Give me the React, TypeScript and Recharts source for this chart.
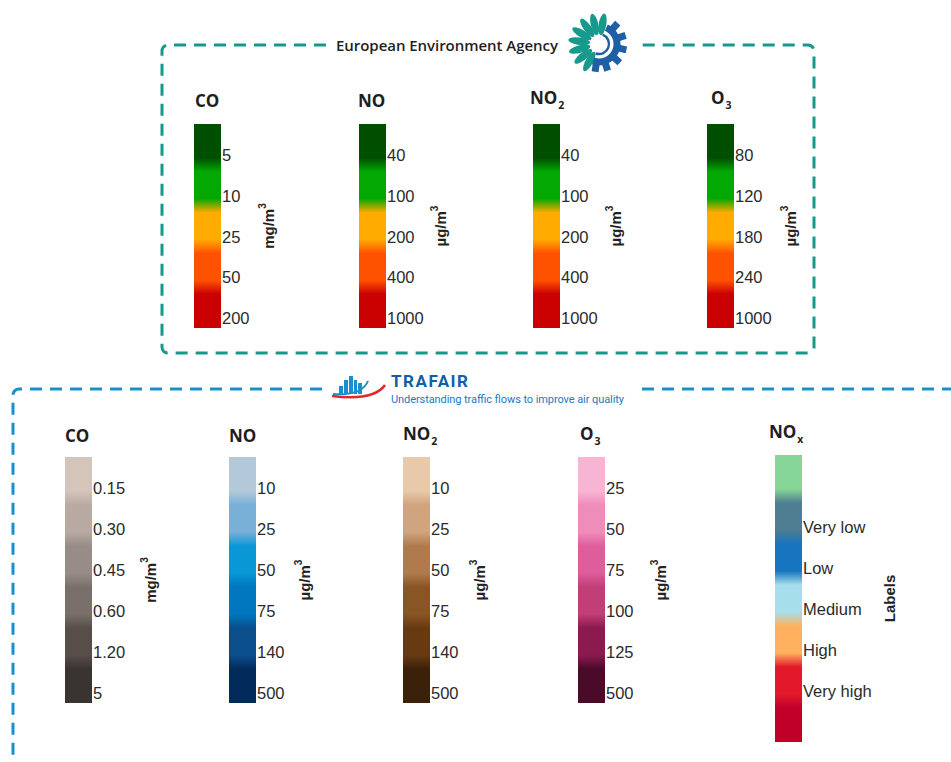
import React from "react";
import { BarChart, Bar, XAxis, YAxis } from "recharts";

// EEA bands (same five colours for every pollutant)
const eeaColors = ["#004f00", "#03a803", "#ffab00", "#ff5200", "#cb0000"];
const eeaCoTicks = ["5", "10", "25", "50", "200"];
const eeaNoTicks = ["40", "100", "200", "400", "1000"];
const eeaNo2Ticks = ["40", "100", "200", "400", "1000"];
const eeaO3Ticks = ["80", "120", "180", "240", "1000"];

// TRAFAIR bands
const trafairCoTicks = ["0.15", "0.30", "0.45", "0.60", "1.20", "5"];
const trafairCoColors = ["#d5c4ba", "#b8aaa3", "#978c87", "#7a706b", "#574e4a", "#3a3430"];
const trafairNoTicks = ["10", "25", "50", "75", "140", "500"];
const trafairNoColors = ["#b3c9d9", "#78b0d8", "#0a97d5", "#0077bf", "#0a4e8c", "#022b5b"];
const trafairNo2Ticks = ["10", "25", "50", "75", "140", "500"];
const trafairNo2Colors = ["#e8caab", "#d0a47e", "#b07a4d", "#8a5525", "#673a12", "#3b2109"];
const trafairO3Ticks = ["25", "50", "75", "100", "125", "500"];
const trafairO3Colors = ["#f8b5d3", "#ef8dba", "#de5e9b", "#c13e77", "#8b1a4e", "#4a0a28"];
const noxTicks = ["", "Very low", "Low", "Medium", "High", "Very high", ""];
const noxColors = ["#86d797", "#4f7d91", "#1775c0", "#a6dfeb", "#ffb15f", "#e3192b", "#c1002a"];

const TICK_POS = 0.76;

interface ColorBarProps {
  id: string;
  ticks: string[];
  colors: string[];
  unit: string;
  sup?: string;
  left: number;
  top: number;
  bandHeight: number;
  unitOffset: number;
  barWidth?: number;
}

function ColorBar({ id, ticks, colors, unit, sup, left, top, bandHeight, unitOffset, barWidth = 27 }: ColorBarProps) {
  const n = colors.length;
  const height = n * bandHeight;
  const axisWidth = unitOffset + 16;
  const data = [{ name: id, bands: n }];
  const tickValues = ticks
    .map((t, i) => (t ? i + TICK_POS : null))
    .filter((v) => v !== null) as number[];

  const renderTick = (props: any) => {
    const label = ticks[Math.round(props.payload.value - TICK_POS)];
    return (
      <text
        x={barWidth + 1}
        y={props.y}
        dy="0.36em"
        fontSize={16.5}
        fill="#2b2b2b"
        fontFamily="'Liberation Sans', Arial, sans-serif"
        textAnchor="start"
      >
        {label}
      </text>
    );
  };

  const renderUnit = () => {
    const cx = barWidth + unitOffset;
    const cy = height / 2;
    return (
      <text
        x={cx}
        y={cy}
        transform={`rotate(-90 ${cx} ${cy})`}
        textAnchor="middle"
        dominantBaseline="central"
        fontSize={15}
        fontWeight="bold"
        fill="#222"
        fontFamily="'Liberation Sans', Arial, sans-serif"
      >
        {unit}
        {sup && (
          <tspan dy={-6} fontSize={10}>
            {sup}
          </tspan>
        )}
      </text>
    );
  };

  return (
    <div style={{ position: "absolute", left, top }}>
      <BarChart
        width={barWidth + axisWidth}
        height={height}
        data={data}
        margin={{ top: 0, right: 0, bottom: 0, left: 0 }}
        barCategoryGap={0}
      >
        <defs>
          <linearGradient id={`grad-${id}`} x1="0" y1="0" x2="0" y2="1">
            {colors.flatMap((c, i) => [
              <stop key={`${i}a`} offset={(i + (i === 0 ? 0 : 0.17)) / n} stopColor={c} />,
              <stop key={`${i}b`} offset={(i + (i === n - 1 ? 1 : 0.83)) / n} stopColor={c} />,
            ])}
          </linearGradient>
        </defs>
        <XAxis dataKey="name" hide />
        <YAxis
          orientation="right"
          type="number"
          domain={[0, n]}
          reversed
          ticks={tickValues}
          interval={0}
          axisLine={false}
          tickLine={false}
          tickSize={0}
          tickMargin={1}
          width={axisWidth}
          tick={renderTick}
          label={{ content: renderUnit }}
        />
        <Bar dataKey="bands" fill={`url(#grad-${id})`} isAnimationActive={false} />
      </BarChart>
    </div>
  );
}

function Title({ text, sub, left, baseline }: { text: string; sub?: string; left: number; baseline: number }) {
  return (
    <div
      style={{
        position: "absolute",
        left,
        top: baseline - 19,
        fontFamily: "'Open Sans', sans-serif",
        fontWeight: 700,
        fontSize: 17,
        lineHeight: "23px",
        color: "#1e1e1e",
        whiteSpace: "nowrap",
      }}
    >
      {text}
      {sub && <span style={{ fontSize: 10.5, position: "relative", top: 5, marginLeft: 1 }}>{sub}</span>}
    </div>
  );
}

function EeaLogo({ cx, cy }: { cx: number; cy: number }) {
  const petals = [-80, -103, -126, -149, -172, 165, 142, 119];
  const teeth = [-48, -18, 12, 42, 72, 98];
  return (
    <g>
      {petals.map((a) => {
        const r = (a * Math.PI) / 180;
        const px = cx + Math.cos(r) * 20;
        const py = cy + Math.sin(r) * 20;
        return (
          <ellipse key={a} cx={px} cy={py} rx={3.8} ry={11} fill="#17998b" transform={`rotate(${a + 90} ${px} ${py})`} />
        );
      })}
      <path
        d={`M ${cx + 18 * Math.cos(-1.15)} ${cy + 18 * Math.sin(-1.15)} A 18 18 0 0 1 ${cx + 18 * Math.cos(1.9)} ${cy + 18 * Math.sin(1.9)}`}
        fill="none"
        stroke="#1f5fa6"
        strokeWidth={7}
      />
      {teeth.map((a) => (
        <rect
          key={a}
          x={cx + 20}
          y={cy - 3.5}
          width={8}
          height={7}
          fill="#1f5fa6"
          transform={`rotate(${a} ${cx} ${cy})`}
        />
      ))}
      <path
        d={`M ${cx + 10 * Math.cos(-1.2)} ${cy + 10 * Math.sin(-1.2)} A 10 10 0 0 1 ${cx + 10 * Math.cos(1.9)} ${cy + 10 * Math.sin(1.9)}`}
        fill="none"
        stroke="#1f5fa6"
        strokeWidth={2.5}
      />
    </g>
  );
}

function TrafairLogo() {
  const towers = [
    [339, 386, 4, 8],
    [344, 380, 4, 14],
    [349, 376, 4, 18],
    [354, 380, 3, 14],
    [358, 383, 4, 11],
  ];
  return (
    <g>
      {towers.map(([x, y, w, h], i) => (
        <rect key={i} x={x} y={y} width={w} height={h} fill="#1a8fd0" />
      ))}
      <path d="M 333 394 Q 362 396 368 381" fill="none" stroke="#1a8fd0" strokeWidth={2} />
      <path d="M 332 396 Q 374 401 385 385" fill="none" stroke="#e5262c" strokeWidth={2.6} />
    </g>
  );
}

export default function App() {
  const eeaBand = 40.8;
  const trafBand = 41;
  return (
    <div style={{ position: "absolute", left: 0, top: 0, width: 951, height: 762, background: "#fff", overflow: "hidden" }}>
      <svg width={951} height={762} style={{ position: "absolute", left: 0, top: 0 }}>
        <path
          d="M 326 45 L 168 45 A 6 6 0 0 0 162 51 L 162 347 A 6 6 0 0 0 168 353 L 808 353 A 6 6 0 0 0 814 347 L 814 51 A 6 6 0 0 0 808 45 L 642 45"
          fill="none"
          stroke="#16998b"
          strokeWidth={3}
          strokeDasharray="12 8"
        />
        <text x={336} y={51} fontSize={15} fontWeight={600} fill="#1f1f1f" fontFamily="'Open Sans', sans-serif" textLength={222}>
          European Environment Agency
        </text>
        <EeaLogo cx={599} cy={44} />

        <path d="M 322 389 L 19 389 A 6 6 0 0 0 13 395 L 13 762" fill="none" stroke="#1a8fcc" strokeWidth={3} strokeDasharray="12 8" />
        <path d="M 642 389 L 951 389" fill="none" stroke="#1a8fcc" strokeWidth={3} strokeDasharray="12 8" />
        <TrafairLogo />
        <text x={391} y={387} fontSize={17} fontWeight={700} fill="#125ea8" fontFamily="Roboto, sans-serif" textLength={77}>
          TRAFAIR
        </text>
        <text x={391} y={403} fontSize={11} fill="#1d79c1" fontFamily="Roboto, sans-serif" textLength={233}>
          Understanding traffic flows to improve air quality
        </text>
      </svg>

      <Title text="CO" left={195} baseline={108} />
      <Title text="NO" left={358} baseline={108} />
      <Title text="NO" sub="2" left={530} baseline={105} />
      <Title text="O" sub="3" left={711} baseline={105} />

      <ColorBar id="eea-co" ticks={eeaCoTicks} colors={eeaColors} unit="mg/m" sup="3" left={194} top={124} bandHeight={eeaBand} unitOffset={47} />
      <ColorBar id="eea-no" ticks={eeaNoTicks} colors={eeaColors} unit="µg/m" sup="3" left={359} top={124} bandHeight={eeaBand} unitOffset={54} />
      <ColorBar id="eea-no2" ticks={eeaNo2Ticks} colors={eeaColors} unit="µg/m" sup="3" left={533} top={124} bandHeight={eeaBand} unitOffset={55} />
      <ColorBar id="eea-o3" ticks={eeaO3Ticks} colors={eeaColors} unit="µg/m" sup="3" left={707} top={124} bandHeight={eeaBand} unitOffset={56} />

      <Title text="CO" left={65} baseline={443} />
      <Title text="NO" left={229} baseline={443} />
      <Title text="NO" sub="2" left={403} baseline={441} />
      <Title text="O" sub="3" left={580} baseline={441} />
      <Title text="NO" sub="x" left={769} baseline={439} />

      <ColorBar id="t-co" ticks={trafairCoTicks} colors={trafairCoColors} unit="mg/m" sup="3" left={65} top={457} bandHeight={trafBand} unitOffset={58} />
      <ColorBar id="t-no" ticks={trafairNoTicks} colors={trafairNoColors} unit="µg/m" sup="3" left={229} top={457} bandHeight={trafBand} unitOffset={48} />
      <ColorBar id="t-no2" ticks={trafairNo2Ticks} colors={trafairNo2Colors} unit="µg/m" sup="3" left={403} top={457} bandHeight={trafBand} unitOffset={49} />
      <ColorBar id="t-o3" ticks={trafairO3Ticks} colors={trafairO3Colors} unit="µg/m" sup="3" left={578} top={457} bandHeight={trafBand} unitOffset={55} />
      <ColorBar id="t-nox" ticks={noxTicks} colors={noxColors} unit="Labels" left={775} top={455} bandHeight={trafBand} unitOffset={87} />
    </div>
  );
}
